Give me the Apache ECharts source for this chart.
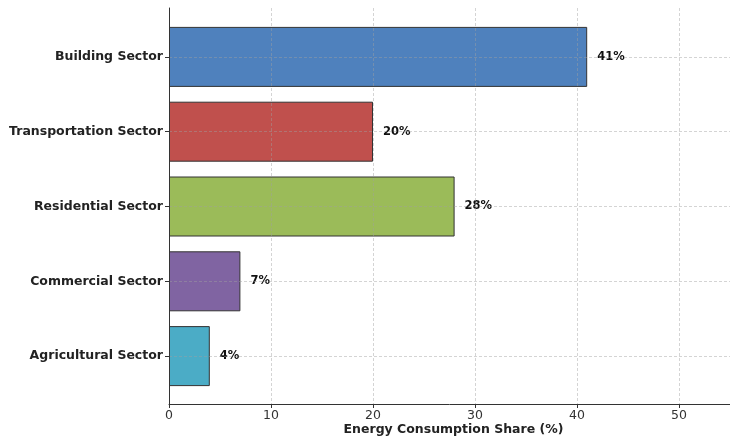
<!DOCTYPE html>
<html>
<head>
<meta charset="utf-8">
<script src="https://cdn.jsdelivr.net/npm/echarts@6/dist/echarts.min.js"></script>
<style>
  html, body { margin: 0; padding: 0; background: #fff; }
  #chart { width: 730px; height: 440px; }
</style>
</head>
<body>
<div id="chart"></div>
<script>
// Sector names, top to bottom
const sectors = ['Building Sector', 'Transportation Sector', 'Residential Sector', 'Commercial Sector', 'Agricultural Sector'];
// Share of energy consumption (%)
const shares = [41, 20, 28, 7, 4];
const barColors = ['#4f81bd', '#c0504d', '#9bbb59', '#8064a2', '#4bacc6'];
const xTicks = [0, 10, 20, 30, 40, 50];
const xMax = 55;

const FONT = 'DejaVu Sans';
const gridColor = 'rgba(160,160,160,0.45)';

const chart = echarts.init(document.getElementById('chart'), null, { renderer: 'canvas' });

chart.setOption({
  animation: false,
  backgroundColor: '#ffffff',
  grid: [
    // bar area (category bands)
    { left: 169, right: 0, top: 19.5, bottom: 46.5, containLabel: false, outerBoundsMode: 'none' },
    // full frame: spines, x ticks, vertical grid
    { left: 169, right: 0, top: 8, bottom: 36, containLabel: false, outerBoundsMode: 'none' }
  ],
  xAxis: [
    {
      gridIndex: 0, type: 'value', min: 0, max: xMax, interval: 10,
      show: false
    },
    {
      gridIndex: 1, type: 'value', min: 0, max: xMax, interval: 10, z: 5,
      axisLine: { show: true, onZero: false, lineStyle: { color: '#333', width: 1 } },
      axisTick: {
        show: true, length: 4, lineStyle: { color: '#333' },
        customValues: xTicks
      },
      axisLabel: {
        color: '#333', fontFamily: FONT, fontSize: 12.5, margin: 5,
        customValues: xTicks
      },
      splitLine: { show: true, lineStyle: { color: gridColor, type: [3, 2], width: 1 } },
      name: 'Energy Consumption Share (%)',
      nameLocation: 'middle', nameGap: 19, nameMoveOverlap: false,
      nameTextStyle: { fontFamily: FONT, fontSize: 12.5, fontWeight: 'bold', color: '#222', padding: [0, 0, 0, 8] }
    }
  ],
  yAxis: [
    {
      gridIndex: 0, type: 'category', data: sectors, inverse: true, z: 5,
      axisLine: { show: false },
      axisTick: { show: true, alignWithLabel: true, length: 4, lineStyle: { color: '#333' } },
      axisLabel: { color: '#222', fontFamily: FONT, fontSize: 12.5, fontWeight: 'bold', margin: 6 },
      splitLine: { show: false }
    },
    {
      gridIndex: 1, type: 'value', min: 0, max: 1, z: 5,
      axisLine: { show: true, lineStyle: { color: '#333', width: 1 } },
      axisTick: { show: false },
      axisLabel: { show: false },
      splitLine: { show: false }
    }
  ],
  series: [
    {
      type: 'bar',
      xAxisIndex: 0, yAxisIndex: 0,
      data: shares.map((v, i) => ({
        value: v,
        itemStyle: { color: barColors[i] }
      })),
      barWidth: 60,
      itemStyle: { borderColor: '#333', borderWidth: 1 },
      label: {
        show: true, position: 'right', distance: 10,
        formatter: p => p.value + '%',
        fontFamily: FONT, fontSize: 11.5, fontWeight: 'bold', color: '#111'
      },
      // horizontal dashed grid lines through each category centre
      markLine: {
        silent: true, symbol: 'none', z: 4,
        label: { show: false },
        lineStyle: { color: gridColor, type: [3, 2], width: 1 },
        data: sectors.map(s => ({ yAxis: s }))
      }
    }
  ]
});
</script>
</body>
</html>
